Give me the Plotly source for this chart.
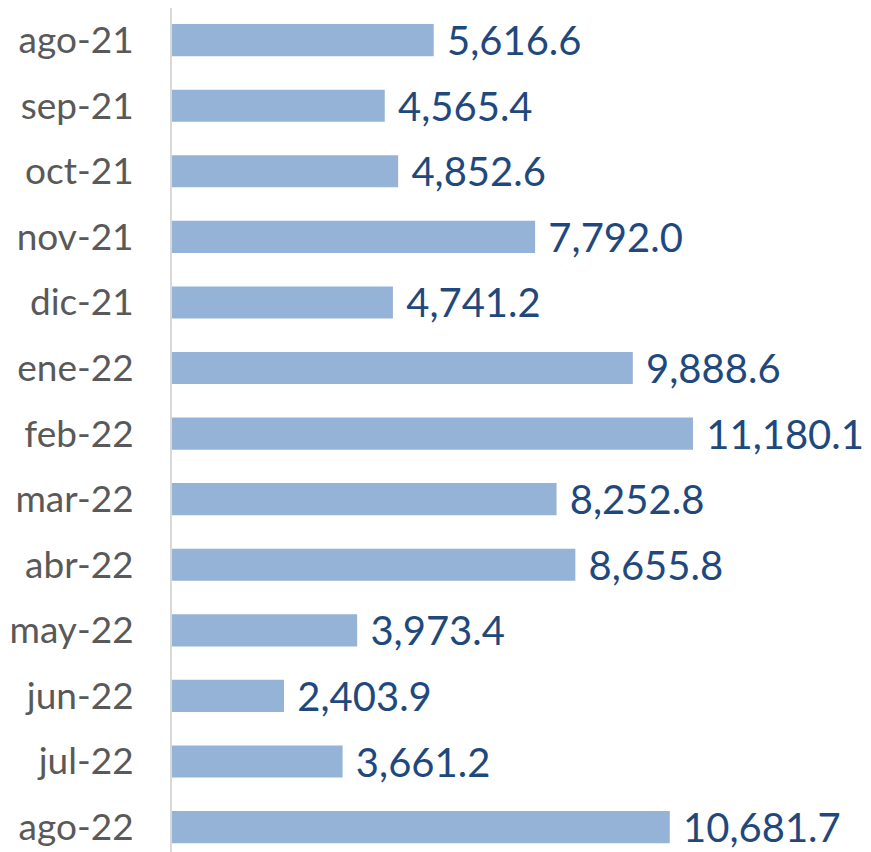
import plotly.graph_objects as go

categories = ["ago-21", "sep-21", "oct-21", "nov-21", "dic-21", "ene-22", "feb-22",
              "mar-22", "abr-22", "may-22", "jun-22", "jul-22", "ago-22"]
values = [5616.6, 4565.4, 4852.6, 7792.0, 4741.2, 9888.6, 11180.1,
          8252.8, 8655.8, 3973.4, 2403.9, 3661.2, 10681.7]

fig = go.Figure(go.Bar(
    x=values, y=categories, orientation="h",
    marker=dict(color="#95B3D7", line=dict(width=0)),
    texttemplate="\u00a0%{x:,.1f}", textposition="outside",
    textfont=dict(family="Lato", size=40, color="#1F497D"),
    constraintext="none",
    cliponaxis=False, width=0.49,
))

# page body has an 8px margin, so the figure is sized/offset to compensate
fig.update_layout(
    width=863, height=844,
    margin=dict(l=164, r=0, t=0, b=0, autoexpand=False),
    plot_bgcolor="white", paper_bgcolor="white",
    showlegend=False,
    font=dict(family="Lato"),
)
fig.update_xaxes(range=[0, 15000], visible=False, showgrid=False, automargin=False)
fig.update_yaxes(
    type="category", categoryorder="array", categoryarray=categories,
    range=[12.38, -0.49], automargin=False,
    showline=True, linecolor="#D9D9D9", linewidth=2,
    showgrid=False, ticks="", ticklabelstandoff=29,
    tickfont=dict(family="Lato", size=37, color="#595959"),
)

fig.write_html("out.html")
